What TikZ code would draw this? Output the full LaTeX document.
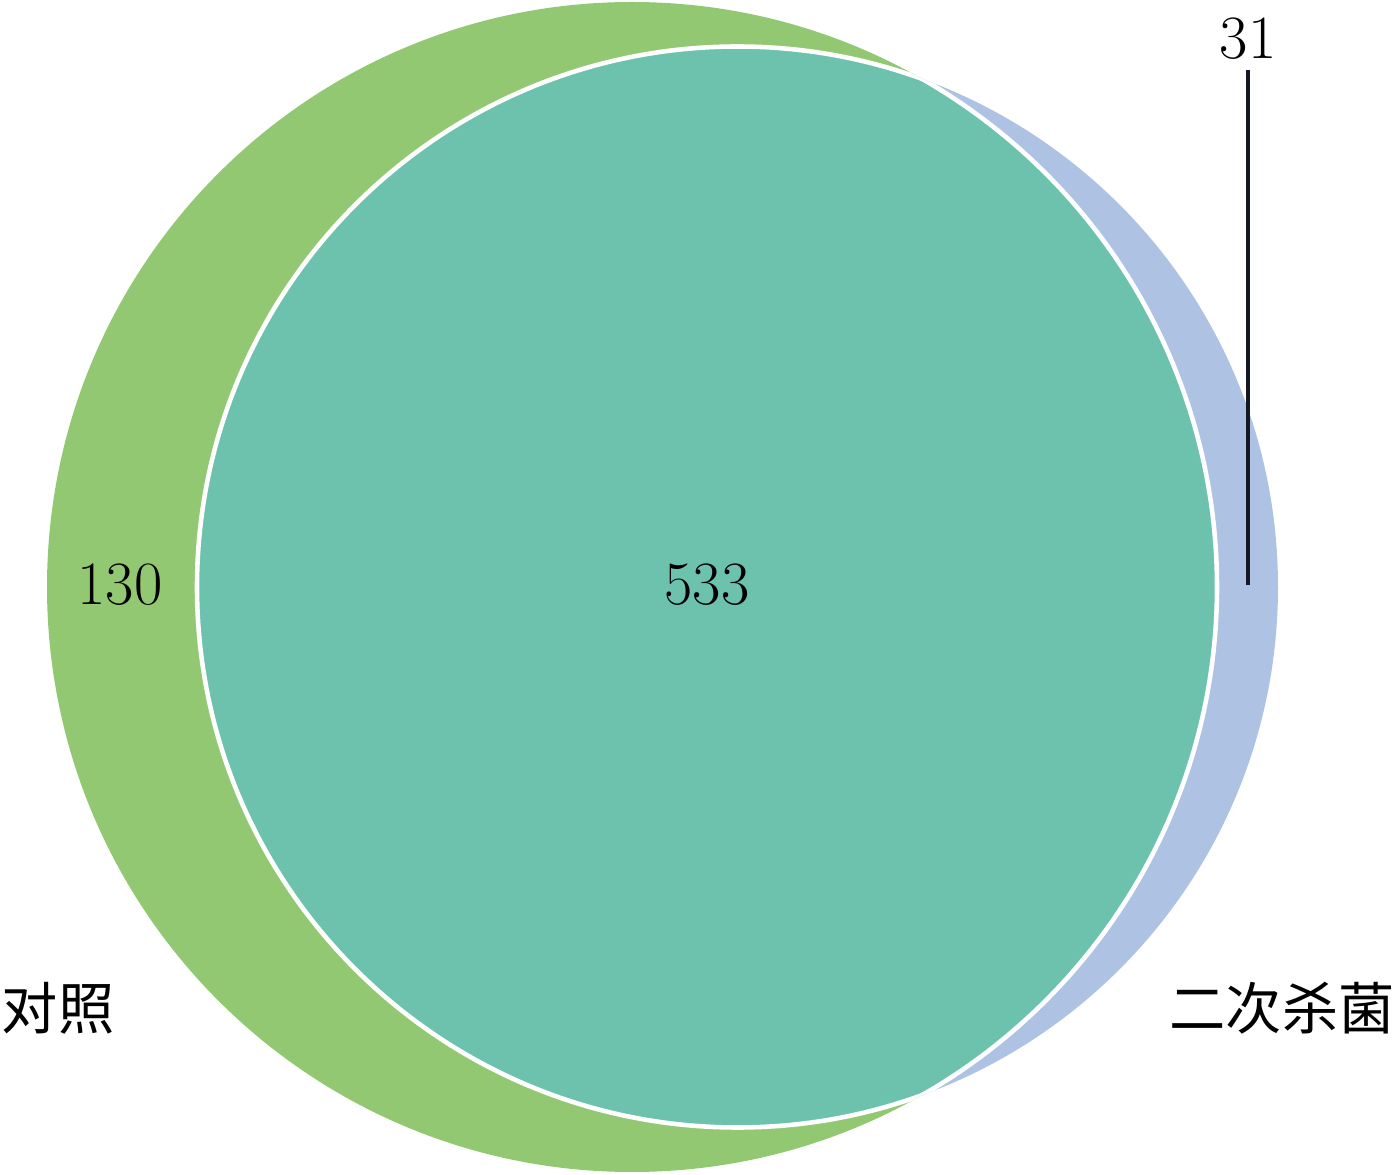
\documentclass[tikz,border=0pt]{standalone}
\usepackage{fontspec}
\newfontfamily\cjk{Noto Sans CJK SC}
\usetikzlibrary{positioning}
\definecolor{setgreen}{RGB}{147,200,115}
\definecolor{setblue}{RGB}{174,194,227}
\definecolor{setteal}{RGB}{109,194,174}
\definecolor{ink}{RGB}{20,24,36}

\begin{document}
\begin{tikzpicture}
    \useasboundingbox (0,0) rectangle (13.99,11.74);
    \tikzset{num/.style={font=\fontsize{17.5}{21}\selectfont,text=black},
      setname/.style={font=\fontsize{16}{19}\selectfont\cjk,text=black}}
    % the two sets
    \fill[setgreen] (6.32,5.87) circle (5.85);
    \fill[setblue] (7.375,5.87) circle (5.405);
    % overlap
    \begin{scope}
      \clip (6.32,5.87) circle (5.85);
      \fill[setteal] (7.375,5.87) circle (5.405);
      \draw[white,line width=1.3pt] (7.375,5.87) circle (5.405);
    \end{scope}
    \begin{scope}
      \clip (7.375,5.87) circle (5.405);
      \draw[white,line width=1.3pt] (6.32,5.87) circle (5.85);
    \end{scope}
    % counts
    \node[num] (onlyctrl) at (1.20,5.89) {130};
    \node[num] (both) at (7.07,5.89) {533};
    \node[num] (onlyster) at (12.48,11.35) {31};
    \coordinate (tip) at (12.48,5.89);
    \draw[ink,line width=0.9pt] (onlyster.south) ++(0,0.02) -- (tip);
    % set names
    \node[setname] (ctrl) at (0.58,1.66) {对照};
    \node[setname] (ster) at (12.82,1.66) {二次杀菌};
  \end{tikzpicture}
\end{document}
